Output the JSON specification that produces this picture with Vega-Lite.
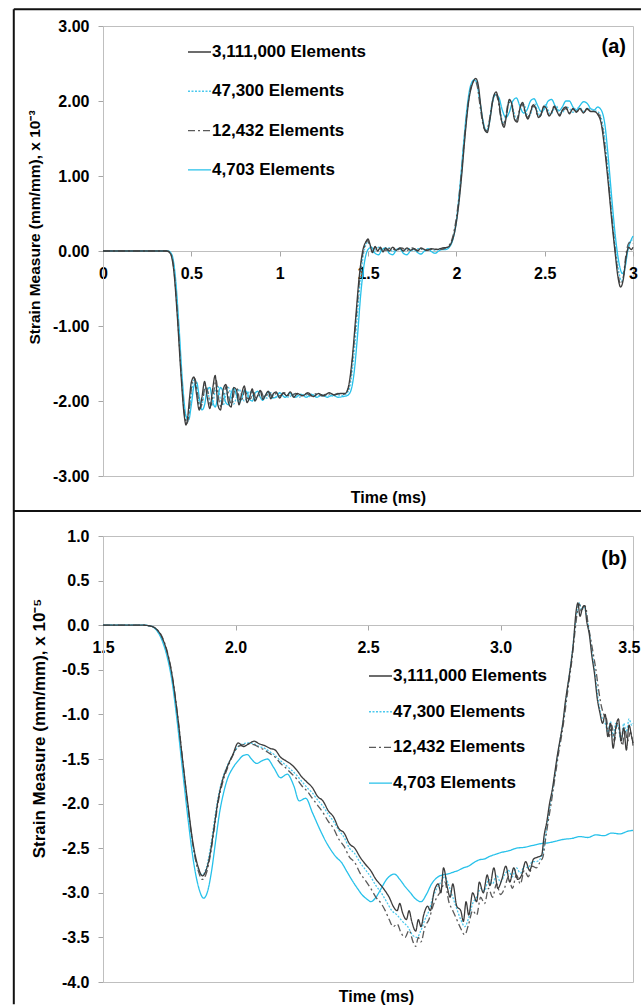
{
"$schema": "https://vega.github.io/schema/vega-lite/v6.json",
"padding": {"left": 12, "top": 7, "right": 0, "bottom": 0},
"spacing": -4,
"config": {
 "font": "Liberation Sans",
 "locale": {"number": {"decimal": ".", "thousands": ",", "grouping": [3], "currency": ["$", ""], "minus": "-"}},
 "view": {"stroke": "#bfbfbf", "strokeWidth": 1},
 "axis": {"grid": false, "labelFont": "Liberation Sans", "labelFontSize": 16, "labelFontWeight": "bold", "labelColor": "#000000", "titleFont": "Liberation Sans", "titleFontWeight": "bold", "titleColor": "#000000", "titleFontSize": 16, "tickColor": "#a6a6a6", "tickSize": 5, "domainColor": "#bfbfbf", "labelOverlap": false, "labelFlush": false, "labelBound": false},
 "legend": {"title": null, "orient": "none", "symbolType": "stroke", "symbolStrokeWidth": 1.4, "labelFont": "Liberation Sans", "labelFontSize": 17, "labelFontWeight": "bold", "labelColor": "#000000", "labelOffset": 0, "padding": 0}
},
"datasets": {
"a": [
{"s":"4,703","t":0,"v":0},{"s":"4,703","t":0.37,"v":0},{"s":"4,703","t":0.39,"v":-0.05},{"s":"4,703","t":0.41,"v":-0.35},{"s":"4,703","t":0.43,"v":-1.0},{"s":"4,703","t":0.45,"v":-1.75},{"s":"4,703","t":0.47,"v":-2.2},{"s":"4,703","t":0.485,"v":-2.25},{"s":"4,703","t":0.5,"v":-2.05},{"s":"4,703","t":0.515,"v":-1.8},{"s":"4,703","t":0.53,"v":-1.75},{"s":"4,703","t":0.545,"v":-1.95},{"s":"4,703","t":0.56,"v":-2.12},{"s":"4,703","t":0.575,"v":-2.05},{"s":"4,703","t":0.59,"v":-1.85},{"s":"4,703","t":0.605,"v":-1.82},{"s":"4,703","t":0.62,"v":-2.0},{"s":"4,703","t":0.635,"v":-2.08},{"s":"4,703","t":0.65,"v":-1.95},{"s":"4,703","t":0.665,"v":-1.82},{"s":"4,703","t":0.68,"v":-1.88},{"s":"4,703","t":0.695,"v":-2.02},{"s":"4,703","t":0.71,"v":-2.05},{"s":"4,703","t":0.725,"v":-1.9},{"s":"4,703","t":0.74,"v":-1.83},{"s":"4,703","t":0.755,"v":-1.92},{"s":"4,703","t":0.77,"v":-2.02},{"s":"4,703","t":0.785,"v":-1.97},{"s":"4,703","t":0.8,"v":-1.86},{"s":"4,703","t":0.815,"v":-1.88},{"s":"4,703","t":0.83,"v":-1.98},{"s":"4,703","t":0.845,"v":-2.0},{"s":"4,703","t":0.86,"v":-1.9},{"s":"4,703","t":0.875,"v":-1.87},{"s":"4,703","t":0.89,"v":-1.95},{"s":"4,703","t":0.905,"v":-1.99},{"s":"4,703","t":0.92,"v":-1.92},{"s":"4,703","t":0.94,"v":-1.88},{"s":"4,703","t":0.96,"v":-1.96},{"s":"4,703","t":0.98,"v":-1.95},{"s":"4,703","t":1.0,"v":-1.89},{"s":"4,703","t":1.03,"v":-1.95},{"s":"4,703","t":1.06,"v":-1.9},{"s":"4,703","t":1.09,"v":-1.95},{"s":"4,703","t":1.12,"v":-1.91},{"s":"4,703","t":1.15,"v":-1.95},{"s":"4,703","t":1.18,"v":-1.91},{"s":"4,703","t":1.21,"v":-1.95},{"s":"4,703","t":1.24,"v":-1.92},{"s":"4,703","t":1.27,"v":-1.95},{"s":"4,703","t":1.3,"v":-1.92},{"s":"4,703","t":1.33,"v":-1.95},{"s":"4,703","t":1.36,"v":-1.94},{"s":"4,703","t":1.38,"v":-1.93},{"s":"4,703","t":1.4,"v":-1.88},{"s":"4,703","t":1.42,"v":-1.65},{"s":"4,703","t":1.44,"v":-1.15},{"s":"4,703","t":1.46,"v":-0.55},{"s":"4,703","t":1.48,"v":-0.15},{"s":"4,703","t":1.5,"v":0.02},{"s":"4,703","t":1.52,"v":0.05},{"s":"4,703","t":1.54,"v":-0.03},{"s":"4,703","t":1.56,"v":-0.05},{"s":"4,703","t":1.58,"v":0.02},{"s":"4,703","t":1.6,"v":0.04},{"s":"4,703","t":1.62,"v":-0.03},{"s":"4,703","t":1.64,"v":-0.05},{"s":"4,703","t":1.66,"v":0.01},{"s":"4,703","t":1.68,"v":0.03},{"s":"4,703","t":1.7,"v":-0.03},{"s":"4,703","t":1.72,"v":-0.05},{"s":"4,703","t":1.74,"v":0.0},{"s":"4,703","t":1.76,"v":0.03},{"s":"4,703","t":1.78,"v":-0.02},{"s":"4,703","t":1.8,"v":-0.04},{"s":"4,703","t":1.82,"v":0.0},{"s":"4,703","t":1.84,"v":0.03},{"s":"4,703","t":1.86,"v":-0.01},{"s":"4,703","t":1.88,"v":-0.03},{"s":"4,703","t":1.9,"v":0.0},{"s":"4,703","t":1.92,"v":0.02},{"s":"4,703","t":1.94,"v":0.02},{"s":"4,703","t":1.96,"v":0.05},{"s":"4,703","t":1.98,"v":0.15},{"s":"4,703","t":2.0,"v":0.4},{"s":"4,703","t":2.02,"v":0.85},{"s":"4,703","t":2.04,"v":1.4},{"s":"4,703","t":2.06,"v":1.9},{"s":"4,703","t":2.08,"v":2.2},{"s":"4,703","t":2.1,"v":2.28},{"s":"4,703","t":2.115,"v":2.25},{"s":"4,703","t":2.13,"v":2.05},{"s":"4,703","t":2.15,"v":1.75},{"s":"4,703","t":2.17,"v":1.6},{"s":"4,703","t":2.185,"v":1.68},{"s":"4,703","t":2.2,"v":1.92},{"s":"4,703","t":2.22,"v":2.08},{"s":"4,703","t":2.24,"v":2.05},{"s":"4,703","t":2.26,"v":1.88},{"s":"4,703","t":2.28,"v":1.78},{"s":"4,703","t":2.3,"v":1.85},{"s":"4,703","t":2.32,"v":2.0},{"s":"4,703","t":2.34,"v":2.04},{"s":"4,703","t":2.36,"v":1.93},{"s":"4,703","t":2.38,"v":1.84},{"s":"4,703","t":2.4,"v":1.88},{"s":"4,703","t":2.42,"v":2.0},{"s":"4,703","t":2.44,"v":2.03},{"s":"4,703","t":2.46,"v":1.94},{"s":"4,703","t":2.48,"v":1.86},{"s":"4,703","t":2.5,"v":1.9},{"s":"4,703","t":2.52,"v":2.0},{"s":"4,703","t":2.54,"v":2.02},{"s":"4,703","t":2.56,"v":1.93},{"s":"4,703","t":2.58,"v":1.87},{"s":"4,703","t":2.6,"v":1.92},{"s":"4,703","t":2.62,"v":2.0},{"s":"4,703","t":2.64,"v":2.0},{"s":"4,703","t":2.66,"v":1.92},{"s":"4,703","t":2.68,"v":1.88},{"s":"4,703","t":2.7,"v":1.94},{"s":"4,703","t":2.72,"v":1.99},{"s":"4,703","t":2.74,"v":1.97},{"s":"4,703","t":2.76,"v":1.9},{"s":"4,703","t":2.78,"v":1.88},{"s":"4,703","t":2.8,"v":1.92},{"s":"4,703","t":2.82,"v":1.88},{"s":"4,703","t":2.84,"v":1.7},{"s":"4,703","t":2.86,"v":1.25},{"s":"4,703","t":2.88,"v":0.7},{"s":"4,703","t":2.9,"v":0.2},{"s":"4,703","t":2.92,"v":-0.15},{"s":"4,703","t":2.94,"v":-0.3},{"s":"4,703","t":2.955,"v":-0.22},{"s":"4,703","t":2.97,"v":0.0},{"s":"4,703","t":2.985,"v":0.12},{"s":"4,703","t":3.0,"v":0.2},
{"s":"47,300","t":0,"v":0},{"s":"47,300","t":0.365,"v":0},{"s":"47,300","t":0.385,"v":-0.04},{"s":"47,300","t":0.405,"v":-0.3},{"s":"47,300","t":0.425,"v":-0.92},{"s":"47,300","t":0.445,"v":-1.68},{"s":"47,300","t":0.465,"v":-2.2},{"s":"47,300","t":0.478,"v":-2.28},{"s":"47,300","t":0.49,"v":-2.12},{"s":"47,300","t":0.5,"v":-1.9},{"s":"47,300","t":0.515,"v":-1.72},{"s":"47,300","t":0.53,"v":-1.82},{"s":"47,300","t":0.545,"v":-2.05},{"s":"47,300","t":0.56,"v":-2.05},{"s":"47,300","t":0.575,"v":-1.85},{"s":"47,300","t":0.59,"v":-1.82},{"s":"47,300","t":0.605,"v":-2.02},{"s":"47,300","t":0.62,"v":-2.05},{"s":"47,300","t":0.635,"v":-1.86},{"s":"47,300","t":0.65,"v":-1.8},{"s":"47,300","t":0.665,"v":-1.98},{"s":"47,300","t":0.68,"v":-2.06},{"s":"47,300","t":0.695,"v":-1.92},{"s":"47,300","t":0.71,"v":-1.82},{"s":"47,300","t":0.725,"v":-1.93},{"s":"47,300","t":0.74,"v":-2.04},{"s":"47,300","t":0.755,"v":-1.95},{"s":"47,300","t":0.77,"v":-1.84},{"s":"47,300","t":0.785,"v":-1.92},{"s":"47,300","t":0.8,"v":-2.0},{"s":"47,300","t":0.815,"v":-1.95},{"s":"47,300","t":0.83,"v":-1.87},{"s":"47,300","t":0.845,"v":-1.92},{"s":"47,300","t":0.86,"v":-1.99},{"s":"47,300","t":0.875,"v":-1.94},{"s":"47,300","t":0.89,"v":-1.88},{"s":"47,300","t":0.91,"v":-1.95},{"s":"47,300","t":0.93,"v":-1.96},{"s":"47,300","t":0.95,"v":-1.89},{"s":"47,300","t":0.97,"v":-1.93},{"s":"47,300","t":0.99,"v":-1.95},{"s":"47,300","t":1.02,"v":-1.9},{"s":"47,300","t":1.05,"v":-1.95},{"s":"47,300","t":1.08,"v":-1.91},{"s":"47,300","t":1.11,"v":-1.95},{"s":"47,300","t":1.14,"v":-1.91},{"s":"47,300","t":1.17,"v":-1.94},{"s":"47,300","t":1.2,"v":-1.91},{"s":"47,300","t":1.23,"v":-1.94},{"s":"47,300","t":1.26,"v":-1.92},{"s":"47,300","t":1.29,"v":-1.94},{"s":"47,300","t":1.32,"v":-1.91},{"s":"47,300","t":1.35,"v":-1.93},{"s":"47,300","t":1.38,"v":-1.9},{"s":"47,300","t":1.4,"v":-1.78},{"s":"47,300","t":1.42,"v":-1.4},{"s":"47,300","t":1.44,"v":-0.85},{"s":"47,300","t":1.46,"v":-0.3},{"s":"47,300","t":1.48,"v":0.02},{"s":"47,300","t":1.5,"v":0.12},{"s":"47,300","t":1.515,"v":0.06},{"s":"47,300","t":1.53,"v":-0.02},{"s":"47,300","t":1.545,"v":0.02},{"s":"47,300","t":1.56,"v":0.05},{"s":"47,300","t":1.58,"v":-0.01},{"s":"47,300","t":1.6,"v":0.03},{"s":"47,300","t":1.62,"v":0.04},{"s":"47,300","t":1.64,"v":-0.01},{"s":"47,300","t":1.66,"v":0.02},{"s":"47,300","t":1.68,"v":0.04},{"s":"47,300","t":1.7,"v":0.0},{"s":"47,300","t":1.72,"v":0.03},{"s":"47,300","t":1.74,"v":0.03},{"s":"47,300","t":1.76,"v":0.0},{"s":"47,300","t":1.78,"v":0.03},{"s":"47,300","t":1.8,"v":0.03},{"s":"47,300","t":1.82,"v":0.0},{"s":"47,300","t":1.85,"v":0.03},{"s":"47,300","t":1.88,"v":0.01},{"s":"47,300","t":1.91,"v":0.03},{"s":"47,300","t":1.94,"v":0.03},{"s":"47,300","t":1.96,"v":0.07},{"s":"47,300","t":1.98,"v":0.17},{"s":"47,300","t":2.0,"v":0.38},{"s":"47,300","t":2.02,"v":0.78},{"s":"47,300","t":2.04,"v":1.3},{"s":"47,300","t":2.06,"v":1.82},{"s":"47,300","t":2.08,"v":2.15},{"s":"47,300","t":2.1,"v":2.28},{"s":"47,300","t":2.115,"v":2.26},{"s":"47,300","t":2.13,"v":2.05},{"s":"47,300","t":2.15,"v":1.72},{"s":"47,300","t":2.17,"v":1.6},{"s":"47,300","t":2.185,"v":1.7},{"s":"47,300","t":2.2,"v":1.95},{"s":"47,300","t":2.22,"v":2.1},{"s":"47,300","t":2.235,"v":2.05},{"s":"47,300","t":2.25,"v":1.85},{"s":"47,300","t":2.265,"v":1.7},{"s":"47,300","t":2.28,"v":1.78},{"s":"47,300","t":2.295,"v":1.96},{"s":"47,300","t":2.31,"v":2.0},{"s":"47,300","t":2.325,"v":1.86},{"s":"47,300","t":2.34,"v":1.76},{"s":"47,300","t":2.355,"v":1.83},{"s":"47,300","t":2.37,"v":1.96},{"s":"47,300","t":2.385,"v":1.95},{"s":"47,300","t":2.4,"v":1.82},{"s":"47,300","t":2.415,"v":1.8},{"s":"47,300","t":2.43,"v":1.9},{"s":"47,300","t":2.445,"v":1.96},{"s":"47,300","t":2.46,"v":1.86},{"s":"47,300","t":2.475,"v":1.8},{"s":"47,300","t":2.49,"v":1.87},{"s":"47,300","t":2.505,"v":1.95},{"s":"47,300","t":2.52,"v":1.88},{"s":"47,300","t":2.535,"v":1.82},{"s":"47,300","t":2.55,"v":1.88},{"s":"47,300","t":2.565,"v":1.94},{"s":"47,300","t":2.58,"v":1.87},{"s":"47,300","t":2.6,"v":1.84},{"s":"47,300","t":2.62,"v":1.92},{"s":"47,300","t":2.64,"v":1.9},{"s":"47,300","t":2.66,"v":1.85},{"s":"47,300","t":2.68,"v":1.9},{"s":"47,300","t":2.7,"v":1.91},{"s":"47,300","t":2.72,"v":1.86},{"s":"47,300","t":2.74,"v":1.9},{"s":"47,300","t":2.76,"v":1.9},{"s":"47,300","t":2.78,"v":1.87},{"s":"47,300","t":2.8,"v":1.86},{"s":"47,300","t":2.82,"v":1.78},{"s":"47,300","t":2.84,"v":1.5},{"s":"47,300","t":2.86,"v":1.05},{"s":"47,300","t":2.88,"v":0.55},{"s":"47,300","t":2.9,"v":0.08},{"s":"47,300","t":2.92,"v":-0.28},{"s":"47,300","t":2.935,"v":-0.4},{"s":"47,300","t":2.95,"v":-0.3},{"s":"47,300","t":2.965,"v":-0.05},{"s":"47,300","t":2.98,"v":0.12},{"s":"47,300","t":3.0,"v":0.15},
{"s":"12,432","t":0,"v":0},{"s":"12,432","t":0.36,"v":0},{"s":"12,432","t":0.38,"v":-0.02},{"s":"12,432","t":0.4,"v":-0.22},{"s":"12,432","t":0.42,"v":-0.8},{"s":"12,432","t":0.44,"v":-1.55},{"s":"12,432","t":0.46,"v":-2.15},{"s":"12,432","t":0.475,"v":-2.3},{"s":"12,432","t":0.485,"v":-2.2},{"s":"12,432","t":0.495,"v":-1.95},{"s":"12,432","t":0.505,"v":-1.75},{"s":"12,432","t":0.52,"v":-1.7},{"s":"12,432","t":0.535,"v":-1.9},{"s":"12,432","t":0.55,"v":-2.1},{"s":"12,432","t":0.565,"v":-1.98},{"s":"12,432","t":0.58,"v":-1.78},{"s":"12,432","t":0.595,"v":-1.9},{"s":"12,432","t":0.61,"v":-2.06},{"s":"12,432","t":0.625,"v":-1.9},{"s":"12,432","t":0.64,"v":-1.72},{"s":"12,432","t":0.655,"v":-1.98},{"s":"12,432","t":0.67,"v":-2.08},{"s":"12,432","t":0.685,"v":-1.9},{"s":"12,432","t":0.7,"v":-1.8},{"s":"12,432","t":0.715,"v":-1.98},{"s":"12,432","t":0.73,"v":-2.04},{"s":"12,432","t":0.745,"v":-1.86},{"s":"12,432","t":0.76,"v":-1.84},{"s":"12,432","t":0.775,"v":-2.0},{"s":"12,432","t":0.79,"v":-1.96},{"s":"12,432","t":0.805,"v":-1.84},{"s":"12,432","t":0.82,"v":-1.97},{"s":"12,432","t":0.835,"v":-1.97},{"s":"12,432","t":0.85,"v":-1.86},{"s":"12,432","t":0.865,"v":-1.96},{"s":"12,432","t":0.88,"v":-1.95},{"s":"12,432","t":0.895,"v":-1.87},{"s":"12,432","t":0.91,"v":-1.95},{"s":"12,432","t":0.925,"v":-1.93},{"s":"12,432","t":0.94,"v":-1.88},{"s":"12,432","t":0.96,"v":-1.95},{"s":"12,432","t":0.98,"v":-1.9},{"s":"12,432","t":1.0,"v":-1.93},{"s":"12,432","t":1.03,"v":-1.89},{"s":"12,432","t":1.06,"v":-1.94},{"s":"12,432","t":1.09,"v":-1.9},{"s":"12,432","t":1.12,"v":-1.93},{"s":"12,432","t":1.15,"v":-1.9},{"s":"12,432","t":1.18,"v":-1.93},{"s":"12,432","t":1.21,"v":-1.9},{"s":"12,432","t":1.24,"v":-1.93},{"s":"12,432","t":1.27,"v":-1.9},{"s":"12,432","t":1.3,"v":-1.92},{"s":"12,432","t":1.33,"v":-1.9},{"s":"12,432","t":1.36,"v":-1.91},{"s":"12,432","t":1.38,"v":-1.88},{"s":"12,432","t":1.4,"v":-1.7},{"s":"12,432","t":1.42,"v":-1.25},{"s":"12,432","t":1.44,"v":-0.7},{"s":"12,432","t":1.46,"v":-0.2},{"s":"12,432","t":1.48,"v":0.06},{"s":"12,432","t":1.495,"v":0.14},{"s":"12,432","t":1.51,"v":0.08},{"s":"12,432","t":1.525,"v":0.0},{"s":"12,432","t":1.54,"v":0.05},{"s":"12,432","t":1.56,"v":0.02},{"s":"12,432","t":1.58,"v":0.04},{"s":"12,432","t":1.6,"v":0.01},{"s":"12,432","t":1.63,"v":0.04},{"s":"12,432","t":1.66,"v":0.01},{"s":"12,432","t":1.69,"v":0.04},{"s":"12,432","t":1.72,"v":0.01},{"s":"12,432","t":1.75,"v":0.04},{"s":"12,432","t":1.78,"v":0.01},{"s":"12,432","t":1.81,"v":0.03},{"s":"12,432","t":1.84,"v":0.01},{"s":"12,432","t":1.87,"v":0.03},{"s":"12,432","t":1.9,"v":0.02},{"s":"12,432","t":1.93,"v":0.03},{"s":"12,432","t":1.95,"v":0.06},{"s":"12,432","t":1.97,"v":0.12},{"s":"12,432","t":1.99,"v":0.3},{"s":"12,432","t":2.01,"v":0.62},{"s":"12,432","t":2.03,"v":1.08},{"s":"12,432","t":2.05,"v":1.62},{"s":"12,432","t":2.07,"v":2.02},{"s":"12,432","t":2.09,"v":2.24},{"s":"12,432","t":2.105,"v":2.27},{"s":"12,432","t":2.12,"v":2.18},{"s":"12,432","t":2.135,"v":1.92},{"s":"12,432","t":2.155,"v":1.65},{"s":"12,432","t":2.17,"v":1.6},{"s":"12,432","t":2.185,"v":1.72},{"s":"12,432","t":2.205,"v":2.0},{"s":"12,432","t":2.22,"v":2.1},{"s":"12,432","t":2.235,"v":2.02},{"s":"12,432","t":2.25,"v":1.8},{"s":"12,432","t":2.265,"v":1.68},{"s":"12,432","t":2.28,"v":1.8},{"s":"12,432","t":2.295,"v":1.98},{"s":"12,432","t":2.31,"v":1.97},{"s":"12,432","t":2.325,"v":1.8},{"s":"12,432","t":2.34,"v":1.74},{"s":"12,432","t":2.355,"v":1.86},{"s":"12,432","t":2.37,"v":1.96},{"s":"12,432","t":2.385,"v":1.88},{"s":"12,432","t":2.4,"v":1.78},{"s":"12,432","t":2.415,"v":1.82},{"s":"12,432","t":2.43,"v":1.93},{"s":"12,432","t":2.445,"v":1.92},{"s":"12,432","t":2.46,"v":1.8},{"s":"12,432","t":2.475,"v":1.8},{"s":"12,432","t":2.49,"v":1.91},{"s":"12,432","t":2.505,"v":1.92},{"s":"12,432","t":2.52,"v":1.82},{"s":"12,432","t":2.535,"v":1.83},{"s":"12,432","t":2.55,"v":1.92},{"s":"12,432","t":2.565,"v":1.89},{"s":"12,432","t":2.58,"v":1.82},{"s":"12,432","t":2.6,"v":1.87},{"s":"12,432","t":2.62,"v":1.9},{"s":"12,432","t":2.64,"v":1.84},{"s":"12,432","t":2.66,"v":1.89},{"s":"12,432","t":2.68,"v":1.86},{"s":"12,432","t":2.7,"v":1.89},{"s":"12,432","t":2.72,"v":1.85},{"s":"12,432","t":2.74,"v":1.89},{"s":"12,432","t":2.76,"v":1.87},{"s":"12,432","t":2.78,"v":1.86},{"s":"12,432","t":2.8,"v":1.84},{"s":"12,432","t":2.82,"v":1.74},{"s":"12,432","t":2.84,"v":1.42},{"s":"12,432","t":2.86,"v":0.95},{"s":"12,432","t":2.88,"v":0.45},{"s":"12,432","t":2.9,"v":0.0},{"s":"12,432","t":2.915,"v":-0.3},{"s":"12,432","t":2.93,"v":-0.44},{"s":"12,432","t":2.945,"v":-0.35},{"s":"12,432","t":2.96,"v":-0.05},{"s":"12,432","t":2.975,"v":0.1},{"s":"12,432","t":2.99,"v":0.12},{"s":"12,432","t":3.0,"v":0.1},
{"s":"3,111,000","t":0,"v":0},{"s":"3,111,000","t":0.36,"v":0},{"s":"3,111,000","t":0.38,"v":-0.03},{"s":"3,111,000","t":0.4,"v":-0.25},{"s":"3,111,000","t":0.42,"v":-0.85},{"s":"3,111,000","t":0.44,"v":-1.6},{"s":"3,111,000","t":0.46,"v":-2.2},{"s":"3,111,000","t":0.47,"v":-2.32},{"s":"3,111,000","t":0.48,"v":-2.2},{"s":"3,111,000","t":0.49,"v":-1.95},{"s":"3,111,000","t":0.5,"v":-1.75},{"s":"3,111,000","t":0.515,"v":-1.68},{"s":"3,111,000","t":0.53,"v":-1.92},{"s":"3,111,000","t":0.545,"v":-2.12},{"s":"3,111,000","t":0.56,"v":-1.95},{"s":"3,111,000","t":0.575,"v":-1.74},{"s":"3,111,000","t":0.59,"v":-1.95},{"s":"3,111,000","t":0.605,"v":-2.1},{"s":"3,111,000","t":0.62,"v":-1.85},{"s":"3,111,000","t":0.635,"v":-1.66},{"s":"3,111,000","t":0.65,"v":-2.05},{"s":"3,111,000","t":0.665,"v":-2.12},{"s":"3,111,000","t":0.68,"v":-1.85},{"s":"3,111,000","t":0.695,"v":-1.78},{"s":"3,111,000","t":0.71,"v":-2.02},{"s":"3,111,000","t":0.725,"v":-2.08},{"s":"3,111,000","t":0.74,"v":-1.82},{"s":"3,111,000","t":0.755,"v":-1.85},{"s":"3,111,000","t":0.77,"v":-2.05},{"s":"3,111,000","t":0.785,"v":-1.9},{"s":"3,111,000","t":0.8,"v":-1.8},{"s":"3,111,000","t":0.815,"v":-2.02},{"s":"3,111,000","t":0.83,"v":-1.95},{"s":"3,111,000","t":0.845,"v":-1.84},{"s":"3,111,000","t":0.86,"v":-2.0},{"s":"3,111,000","t":0.875,"v":-1.93},{"s":"3,111,000","t":0.89,"v":-1.86},{"s":"3,111,000","t":0.905,"v":-1.98},{"s":"3,111,000","t":0.92,"v":-1.92},{"s":"3,111,000","t":0.935,"v":-1.87},{"s":"3,111,000","t":0.95,"v":-1.97},{"s":"3,111,000","t":0.965,"v":-1.9},{"s":"3,111,000","t":0.98,"v":-1.88},{"s":"3,111,000","t":1.0,"v":-1.96},{"s":"3,111,000","t":1.02,"v":-1.89},{"s":"3,111,000","t":1.04,"v":-1.93},{"s":"3,111,000","t":1.06,"v":-1.88},{"s":"3,111,000","t":1.08,"v":-1.95},{"s":"3,111,000","t":1.1,"v":-1.9},{"s":"3,111,000","t":1.13,"v":-1.93},{"s":"3,111,000","t":1.16,"v":-1.89},{"s":"3,111,000","t":1.19,"v":-1.94},{"s":"3,111,000","t":1.22,"v":-1.9},{"s":"3,111,000","t":1.25,"v":-1.93},{"s":"3,111,000","t":1.28,"v":-1.89},{"s":"3,111,000","t":1.31,"v":-1.92},{"s":"3,111,000","t":1.34,"v":-1.9},{"s":"3,111,000","t":1.37,"v":-1.9},{"s":"3,111,000","t":1.39,"v":-1.8},{"s":"3,111,000","t":1.41,"v":-1.45},{"s":"3,111,000","t":1.43,"v":-0.9},{"s":"3,111,000","t":1.45,"v":-0.35},{"s":"3,111,000","t":1.47,"v":0.0},{"s":"3,111,000","t":1.49,"v":0.13},{"s":"3,111,000","t":1.5,"v":0.16},{"s":"3,111,000","t":1.51,"v":0.1},{"s":"3,111,000","t":1.525,"v":-0.02},{"s":"3,111,000","t":1.54,"v":0.06},{"s":"3,111,000","t":1.555,"v":0.0},{"s":"3,111,000","t":1.57,"v":0.05},{"s":"3,111,000","t":1.585,"v":-0.01},{"s":"3,111,000","t":1.6,"v":0.04},{"s":"3,111,000","t":1.62,"v":0.0},{"s":"3,111,000","t":1.64,"v":0.05},{"s":"3,111,000","t":1.66,"v":0.01},{"s":"3,111,000","t":1.68,"v":0.04},{"s":"3,111,000","t":1.7,"v":0.0},{"s":"3,111,000","t":1.72,"v":0.04},{"s":"3,111,000","t":1.74,"v":0.01},{"s":"3,111,000","t":1.76,"v":0.03},{"s":"3,111,000","t":1.78,"v":0.0},{"s":"3,111,000","t":1.8,"v":0.04},{"s":"3,111,000","t":1.83,"v":0.01},{"s":"3,111,000","t":1.86,"v":0.03},{"s":"3,111,000","t":1.89,"v":0.02},{"s":"3,111,000","t":1.92,"v":0.04},{"s":"3,111,000","t":1.95,"v":0.05},{"s":"3,111,000","t":1.97,"v":0.1},{"s":"3,111,000","t":1.99,"v":0.25},{"s":"3,111,000","t":2.01,"v":0.55},{"s":"3,111,000","t":2.03,"v":1.0},{"s":"3,111,000","t":2.05,"v":1.55},{"s":"3,111,000","t":2.07,"v":2.0},{"s":"3,111,000","t":2.09,"v":2.22},{"s":"3,111,000","t":2.11,"v":2.3},{"s":"3,111,000","t":2.125,"v":2.2},{"s":"3,111,000","t":2.14,"v":1.9},{"s":"3,111,000","t":2.16,"v":1.62},{"s":"3,111,000","t":2.175,"v":1.58},{"s":"3,111,000","t":2.19,"v":1.75},{"s":"3,111,000","t":2.21,"v":2.05},{"s":"3,111,000","t":2.225,"v":2.12},{"s":"3,111,000","t":2.24,"v":2.0},{"s":"3,111,000","t":2.255,"v":1.75},{"s":"3,111,000","t":2.27,"v":1.65},{"s":"3,111,000","t":2.285,"v":1.82},{"s":"3,111,000","t":2.3,"v":2.02},{"s":"3,111,000","t":2.315,"v":1.95},{"s":"3,111,000","t":2.33,"v":1.75},{"s":"3,111,000","t":2.345,"v":1.72},{"s":"3,111,000","t":2.36,"v":1.9},{"s":"3,111,000","t":2.375,"v":1.98},{"s":"3,111,000","t":2.39,"v":1.85},{"s":"3,111,000","t":2.405,"v":1.76},{"s":"3,111,000","t":2.42,"v":1.85},{"s":"3,111,000","t":2.435,"v":1.95},{"s":"3,111,000","t":2.45,"v":1.9},{"s":"3,111,000","t":2.465,"v":1.78},{"s":"3,111,000","t":2.48,"v":1.82},{"s":"3,111,000","t":2.495,"v":1.93},{"s":"3,111,000","t":2.51,"v":1.9},{"s":"3,111,000","t":2.525,"v":1.8},{"s":"3,111,000","t":2.54,"v":1.85},{"s":"3,111,000","t":2.555,"v":1.93},{"s":"3,111,000","t":2.57,"v":1.86},{"s":"3,111,000","t":2.585,"v":1.8},{"s":"3,111,000","t":2.6,"v":1.88},{"s":"3,111,000","t":2.62,"v":1.92},{"s":"3,111,000","t":2.64,"v":1.83},{"s":"3,111,000","t":2.66,"v":1.9},{"s":"3,111,000","t":2.68,"v":1.85},{"s":"3,111,000","t":2.7,"v":1.9},{"s":"3,111,000","t":2.72,"v":1.84},{"s":"3,111,000","t":2.74,"v":1.9},{"s":"3,111,000","t":2.76,"v":1.86},{"s":"3,111,000","t":2.78,"v":1.86},{"s":"3,111,000","t":2.8,"v":1.82},{"s":"3,111,000","t":2.82,"v":1.7},{"s":"3,111,000","t":2.84,"v":1.35},{"s":"3,111,000","t":2.86,"v":0.9},{"s":"3,111,000","t":2.88,"v":0.4},{"s":"3,111,000","t":2.9,"v":-0.05},{"s":"3,111,000","t":2.915,"v":-0.35},{"s":"3,111,000","t":2.93,"v":-0.48},{"s":"3,111,000","t":2.945,"v":-0.38},{"s":"3,111,000","t":2.96,"v":-0.1},{"s":"3,111,000","t":2.975,"v":0.05},{"s":"3,111,000","t":2.99,"v":0.02},{"s":"3,111,000","t":3.0,"v":0.05}
],
"b": [
{"s":"4,703","t":1.5,"v":0},{"s":"4,703","t":1.65,"v":0},{"s":"4,703","t":1.68,"v":-0.01},{"s":"4,703","t":1.7,"v":-0.05},{"s":"4,703","t":1.72,"v":-0.15},{"s":"4,703","t":1.74,"v":-0.33},{"s":"4,703","t":1.76,"v":-0.62},{"s":"4,703","t":1.78,"v":-1.08},{"s":"4,703","t":1.8,"v":-1.62},{"s":"4,703","t":1.82,"v":-2.15},{"s":"4,703","t":1.84,"v":-2.62},{"s":"4,703","t":1.86,"v":-2.93},{"s":"4,703","t":1.88,"v":-3.06},{"s":"4,703","t":1.895,"v":-2.98},{"s":"4,703","t":1.91,"v":-2.75},{"s":"4,703","t":1.925,"v":-2.42},{"s":"4,703","t":1.94,"v":-2.1},{"s":"4,703","t":1.955,"v":-1.88},{"s":"4,703","t":1.97,"v":-1.72},{"s":"4,703","t":1.99,"v":-1.6},{"s":"4,703","t":2.01,"v":-1.52},{"s":"4,703","t":2.03,"v":-1.46},{"s":"4,703","t":2.045,"v":-1.45},{"s":"4,703","t":2.06,"v":-1.5},{"s":"4,703","t":2.08,"v":-1.55},{"s":"4,703","t":2.1,"v":-1.52},{"s":"4,703","t":2.12,"v":-1.5},{"s":"4,703","t":2.145,"v":-1.6},{"s":"4,703","t":2.17,"v":-1.71},{"s":"4,703","t":2.195,"v":-1.67},{"s":"4,703","t":2.22,"v":-1.8},{"s":"4,703","t":2.24,"v":-1.97},{"s":"4,703","t":2.265,"v":-1.94},{"s":"4,703","t":2.29,"v":-2.1},{"s":"4,703","t":2.32,"v":-2.3},{"s":"4,703","t":2.34,"v":-2.42},{"s":"4,703","t":2.36,"v":-2.52},{"s":"4,703","t":2.38,"v":-2.6},{"s":"4,703","t":2.4,"v":-2.66},{"s":"4,703","t":2.42,"v":-2.76},{"s":"4,703","t":2.44,"v":-2.86},{"s":"4,703","t":2.46,"v":-2.95},{"s":"4,703","t":2.48,"v":-3.03},{"s":"4,703","t":2.5,"v":-3.08},{"s":"4,703","t":2.51,"v":-3.1},{"s":"4,703","t":2.53,"v":-3.05},{"s":"4,703","t":2.55,"v":-2.95},{"s":"4,703","t":2.57,"v":-2.85},{"s":"4,703","t":2.6,"v":-2.79},{"s":"4,703","t":2.62,"v":-2.85},{"s":"4,703","t":2.64,"v":-2.93},{"s":"4,703","t":2.66,"v":-3.0},{"s":"4,703","t":2.68,"v":-3.07},{"s":"4,703","t":2.7,"v":-3.1},{"s":"4,703","t":2.72,"v":-3.02},{"s":"4,703","t":2.74,"v":-2.9},{"s":"4,703","t":2.76,"v":-2.83},{"s":"4,703","t":2.78,"v":-2.8},{"s":"4,703","t":2.8,"v":-2.79},{"s":"4,703","t":2.82,"v":-2.77},{"s":"4,703","t":2.84,"v":-2.75},{"s":"4,703","t":2.86,"v":-2.72},{"s":"4,703","t":2.88,"v":-2.7},{"s":"4,703","t":2.9,"v":-2.66},{"s":"4,703","t":2.92,"v":-2.63},{"s":"4,703","t":2.94,"v":-2.62},{"s":"4,703","t":2.96,"v":-2.59},{"s":"4,703","t":2.98,"v":-2.57},{"s":"4,703","t":3.0,"v":-2.55},{"s":"4,703","t":3.03,"v":-2.53},{"s":"4,703","t":3.06,"v":-2.5},{"s":"4,703","t":3.09,"v":-2.49},{"s":"4,703","t":3.12,"v":-2.47},{"s":"4,703","t":3.15,"v":-2.45},{"s":"4,703","t":3.18,"v":-2.44},{"s":"4,703","t":3.21,"v":-2.42},{"s":"4,703","t":3.24,"v":-2.4},{"s":"4,703","t":3.27,"v":-2.39},{"s":"4,703","t":3.3,"v":-2.37},{"s":"4,703","t":3.33,"v":-2.38},{"s":"4,703","t":3.36,"v":-2.35},{"s":"4,703","t":3.39,"v":-2.36},{"s":"4,703","t":3.42,"v":-2.33},{"s":"4,703","t":3.45,"v":-2.34},{"s":"4,703","t":3.48,"v":-2.31},{"s":"4,703","t":3.5,"v":-2.3},
{"s":"47,300","t":1.5,"v":0},{"s":"47,300","t":1.65,"v":0},{"s":"47,300","t":1.68,"v":-0.01},{"s":"47,300","t":1.7,"v":-0.04},{"s":"47,300","t":1.72,"v":-0.13},{"s":"47,300","t":1.74,"v":-0.3},{"s":"47,300","t":1.76,"v":-0.58},{"s":"47,300","t":1.78,"v":-1.02},{"s":"47,300","t":1.8,"v":-1.55},{"s":"47,300","t":1.82,"v":-2.05},{"s":"47,300","t":1.84,"v":-2.48},{"s":"47,300","t":1.86,"v":-2.74},{"s":"47,300","t":1.875,"v":-2.8},{"s":"47,300","t":1.89,"v":-2.72},{"s":"47,300","t":1.905,"v":-2.5},{"s":"47,300","t":1.92,"v":-2.2},{"s":"47,300","t":1.935,"v":-1.92},{"s":"47,300","t":1.95,"v":-1.73},{"s":"47,300","t":1.97,"v":-1.57},{"s":"47,300","t":1.99,"v":-1.45},{"s":"47,300","t":2.01,"v":-1.36},{"s":"47,300","t":2.03,"v":-1.33},{"s":"47,300","t":2.05,"v":-1.32},{"s":"47,300","t":2.07,"v":-1.33},{"s":"47,300","t":2.09,"v":-1.36},{"s":"47,300","t":2.11,"v":-1.38},{"s":"47,300","t":2.13,"v":-1.42},{"s":"47,300","t":2.15,"v":-1.46},{"s":"47,300","t":2.17,"v":-1.52},{"s":"47,300","t":2.19,"v":-1.57},{"s":"47,300","t":2.21,"v":-1.62},{"s":"47,300","t":2.23,"v":-1.68},{"s":"47,300","t":2.25,"v":-1.75},{"s":"47,300","t":2.27,"v":-1.82},{"s":"47,300","t":2.29,"v":-1.88},{"s":"47,300","t":2.31,"v":-1.96},{"s":"47,300","t":2.33,"v":-2.03},{"s":"47,300","t":2.35,"v":-2.12},{"s":"47,300","t":2.37,"v":-2.2},{"s":"47,300","t":2.39,"v":-2.3},{"s":"47,300","t":2.41,"v":-2.38},{"s":"47,300","t":2.43,"v":-2.5},{"s":"47,300","t":2.45,"v":-2.56},{"s":"47,300","t":2.47,"v":-2.66},{"s":"47,300","t":2.49,"v":-2.74},{"s":"47,300","t":2.51,"v":-2.82},{"s":"47,300","t":2.53,"v":-2.92},{"s":"47,300","t":2.55,"v":-3.0},{"s":"47,300","t":2.57,"v":-3.1},{"s":"47,300","t":2.59,"v":-3.2},{"s":"47,300","t":2.61,"v":-3.25},{"s":"47,300","t":2.63,"v":-3.32},{"s":"47,300","t":2.65,"v":-3.38},{"s":"47,300","t":2.67,"v":-3.48},{"s":"47,300","t":2.685,"v":-3.5},{"s":"47,300","t":2.7,"v":-3.42},{"s":"47,300","t":2.715,"v":-3.3},{"s":"47,300","t":2.73,"v":-3.2},{"s":"47,300","t":2.745,"v":-3.05},{"s":"47,300","t":2.76,"v":-2.95},{"s":"47,300","t":2.775,"v":-2.88},{"s":"47,300","t":2.79,"v":-2.82},{"s":"47,300","t":2.805,"v":-2.92},{"s":"47,300","t":2.82,"v":-3.05},{"s":"47,300","t":2.835,"v":-3.18},{"s":"47,300","t":2.85,"v":-3.3},{"s":"47,300","t":2.865,"v":-3.38},{"s":"47,300","t":2.88,"v":-3.28},{"s":"47,300","t":2.895,"v":-3.12},{"s":"47,300","t":2.91,"v":-3.05},{"s":"47,300","t":2.925,"v":-2.95},{"s":"47,300","t":2.94,"v":-2.98},{"s":"47,300","t":2.955,"v":-2.85},{"s":"47,300","t":2.97,"v":-2.9},{"s":"47,300","t":2.985,"v":-2.8},{"s":"47,300","t":3.0,"v":-2.88},{"s":"47,300","t":3.015,"v":-2.8},{"s":"47,300","t":3.03,"v":-2.75},{"s":"47,300","t":3.045,"v":-2.82},{"s":"47,300","t":3.06,"v":-2.72},{"s":"47,300","t":3.075,"v":-2.78},{"s":"47,300","t":3.09,"v":-2.7},{"s":"47,300","t":3.105,"v":-2.72},{"s":"47,300","t":3.12,"v":-2.65},{"s":"47,300","t":3.135,"v":-2.65},{"s":"47,300","t":3.15,"v":-2.62},{"s":"47,300","t":3.16,"v":-2.55},{"s":"47,300","t":3.17,"v":-2.35},{"s":"47,300","t":3.18,"v":-2.15},{"s":"47,300","t":3.19,"v":-1.97},{"s":"47,300","t":3.2,"v":-1.78},{"s":"47,300","t":3.21,"v":-1.58},{"s":"47,300","t":3.22,"v":-1.38},{"s":"47,300","t":3.23,"v":-1.2},{"s":"47,300","t":3.24,"v":-1.0},{"s":"47,300","t":3.25,"v":-0.78},{"s":"47,300","t":3.26,"v":-0.55},{"s":"47,300","t":3.27,"v":-0.32},{"s":"47,300","t":3.28,"v":-0.05},{"s":"47,300","t":3.29,"v":0.18},{"s":"47,300","t":3.298,"v":0.25},{"s":"47,300","t":3.305,"v":0.18},{"s":"47,300","t":3.315,"v":0.2},{"s":"47,300","t":3.325,"v":0.1},{"s":"47,300","t":3.335,"v":-0.08},{"s":"47,300","t":3.345,"v":-0.3},{"s":"47,300","t":3.355,"v":-0.5},{"s":"47,300","t":3.365,"v":-0.75},{"s":"47,300","t":3.375,"v":-0.95},{"s":"47,300","t":3.385,"v":-1.05},{"s":"47,300","t":3.395,"v":-1.1},{"s":"47,300","t":3.405,"v":-1.2},{"s":"47,300","t":3.415,"v":-1.08},{"s":"47,300","t":3.425,"v":-1.25},{"s":"47,300","t":3.435,"v":-1.1},{"s":"47,300","t":3.445,"v":-1.15},{"s":"47,300","t":3.455,"v":-1.3},{"s":"47,300","t":3.465,"v":-1.1},{"s":"47,300","t":3.475,"v":-1.2},{"s":"47,300","t":3.485,"v":-1.05},{"s":"47,300","t":3.495,"v":-1.12},{"s":"47,300","t":3.5,"v":-1.1},
{"s":"12,432","t":1.5,"v":0},{"s":"12,432","t":1.65,"v":0},{"s":"12,432","t":1.68,"v":-0.01},{"s":"12,432","t":1.7,"v":-0.04},{"s":"12,432","t":1.72,"v":-0.11},{"s":"12,432","t":1.74,"v":-0.27},{"s":"12,432","t":1.76,"v":-0.54},{"s":"12,432","t":1.78,"v":-0.97},{"s":"12,432","t":1.8,"v":-1.5},{"s":"12,432","t":1.82,"v":-2.02},{"s":"12,432","t":1.84,"v":-2.48},{"s":"12,432","t":1.86,"v":-2.76},{"s":"12,432","t":1.875,"v":-2.85},{"s":"12,432","t":1.89,"v":-2.78},{"s":"12,432","t":1.905,"v":-2.58},{"s":"12,432","t":1.92,"v":-2.28},{"s":"12,432","t":1.935,"v":-1.98},{"s":"12,432","t":1.95,"v":-1.78},{"s":"12,432","t":1.97,"v":-1.6},{"s":"12,432","t":1.99,"v":-1.46},{"s":"12,432","t":2.01,"v":-1.36},{"s":"12,432","t":2.03,"v":-1.34},{"s":"12,432","t":2.05,"v":-1.33},{"s":"12,432","t":2.07,"v":-1.34},{"s":"12,432","t":2.09,"v":-1.37},{"s":"12,432","t":2.11,"v":-1.4},{"s":"12,432","t":2.13,"v":-1.44},{"s":"12,432","t":2.15,"v":-1.48},{"s":"12,432","t":2.17,"v":-1.55},{"s":"12,432","t":2.19,"v":-1.6},{"s":"12,432","t":2.21,"v":-1.66},{"s":"12,432","t":2.23,"v":-1.72},{"s":"12,432","t":2.25,"v":-1.8},{"s":"12,432","t":2.27,"v":-1.86},{"s":"12,432","t":2.29,"v":-1.94},{"s":"12,432","t":2.31,"v":-2.02},{"s":"12,432","t":2.33,"v":-2.1},{"s":"12,432","t":2.35,"v":-2.2},{"s":"12,432","t":2.37,"v":-2.28},{"s":"12,432","t":2.39,"v":-2.4},{"s":"12,432","t":2.41,"v":-2.48},{"s":"12,432","t":2.43,"v":-2.6},{"s":"12,432","t":2.45,"v":-2.66},{"s":"12,432","t":2.47,"v":-2.78},{"s":"12,432","t":2.49,"v":-2.86},{"s":"12,432","t":2.51,"v":-2.95},{"s":"12,432","t":2.53,"v":-3.05},{"s":"12,432","t":2.55,"v":-3.12},{"s":"12,432","t":2.565,"v":-3.2},{"s":"12,432","t":2.58,"v":-3.3},{"s":"12,432","t":2.595,"v":-3.38},{"s":"12,432","t":2.61,"v":-3.35},{"s":"12,432","t":2.625,"v":-3.45},{"s":"12,432","t":2.64,"v":-3.5},{"s":"12,432","t":2.655,"v":-3.42},{"s":"12,432","t":2.67,"v":-3.55},{"s":"12,432","t":2.68,"v":-3.6},{"s":"12,432","t":2.69,"v":-3.5},{"s":"12,432","t":2.7,"v":-3.55},{"s":"12,432","t":2.715,"v":-3.38},{"s":"12,432","t":2.73,"v":-3.3},{"s":"12,432","t":2.745,"v":-3.15},{"s":"12,432","t":2.76,"v":-3.05},{"s":"12,432","t":2.775,"v":-2.98},{"s":"12,432","t":2.79,"v":-2.88},{"s":"12,432","t":2.805,"v":-3.1},{"s":"12,432","t":2.82,"v":-3.2},{"s":"12,432","t":2.835,"v":-3.3},{"s":"12,432","t":2.85,"v":-3.4},{"s":"12,432","t":2.865,"v":-3.47},{"s":"12,432","t":2.88,"v":-3.35},{"s":"12,432","t":2.895,"v":-3.2},{"s":"12,432","t":2.91,"v":-3.25},{"s":"12,432","t":2.925,"v":-3.05},{"s":"12,432","t":2.94,"v":-3.12},{"s":"12,432","t":2.955,"v":-2.95},{"s":"12,432","t":2.97,"v":-3.05},{"s":"12,432","t":2.985,"v":-2.9},{"s":"12,432","t":3.0,"v":-3.02},{"s":"12,432","t":3.015,"v":-2.95},{"s":"12,432","t":3.03,"v":-2.82},{"s":"12,432","t":3.045,"v":-2.95},{"s":"12,432","t":3.06,"v":-2.8},{"s":"12,432","t":3.075,"v":-2.9},{"s":"12,432","t":3.09,"v":-2.75},{"s":"12,432","t":3.105,"v":-2.82},{"s":"12,432","t":3.12,"v":-2.7},{"s":"12,432","t":3.135,"v":-2.72},{"s":"12,432","t":3.15,"v":-2.65},{"s":"12,432","t":3.16,"v":-2.6},{"s":"12,432","t":3.17,"v":-2.4},{"s":"12,432","t":3.18,"v":-2.2},{"s":"12,432","t":3.19,"v":-2.02},{"s":"12,432","t":3.2,"v":-1.82},{"s":"12,432","t":3.21,"v":-1.62},{"s":"12,432","t":3.22,"v":-1.42},{"s":"12,432","t":3.23,"v":-1.25},{"s":"12,432","t":3.24,"v":-1.05},{"s":"12,432","t":3.25,"v":-0.82},{"s":"12,432","t":3.26,"v":-0.6},{"s":"12,432","t":3.27,"v":-0.38},{"s":"12,432","t":3.28,"v":-0.1},{"s":"12,432","t":3.29,"v":0.15},{"s":"12,432","t":3.298,"v":0.24},{"s":"12,432","t":3.305,"v":0.15},{"s":"12,432","t":3.315,"v":0.22},{"s":"12,432","t":3.322,"v":0.2},{"s":"12,432","t":3.33,"v":0.02},{"s":"12,432","t":3.34,"v":-0.15},{"s":"12,432","t":3.35,"v":-0.32},{"s":"12,432","t":3.36,"v":-0.5},{"s":"12,432","t":3.37,"v":-0.72},{"s":"12,432","t":3.38,"v":-0.9},{"s":"12,432","t":3.39,"v":-1.0},{"s":"12,432","t":3.4,"v":-1.05},{"s":"12,432","t":3.41,"v":-1.25},{"s":"12,432","t":3.42,"v":-1.12},{"s":"12,432","t":3.43,"v":-1.3},{"s":"12,432","t":3.44,"v":-1.1},{"s":"12,432","t":3.45,"v":-1.2},{"s":"12,432","t":3.46,"v":-1.35},{"s":"12,432","t":3.47,"v":-1.18},{"s":"12,432","t":3.48,"v":-1.3},{"s":"12,432","t":3.49,"v":-1.2},{"s":"12,432","t":3.5,"v":-1.35},
{"s":"3,111,000","t":1.5,"v":0},{"s":"3,111,000","t":1.65,"v":0},{"s":"3,111,000","t":1.68,"v":-0.01},{"s":"3,111,000","t":1.7,"v":-0.04},{"s":"3,111,000","t":1.72,"v":-0.12},{"s":"3,111,000","t":1.74,"v":-0.28},{"s":"3,111,000","t":1.76,"v":-0.55},{"s":"3,111,000","t":1.78,"v":-0.98},{"s":"3,111,000","t":1.8,"v":-1.5},{"s":"3,111,000","t":1.82,"v":-2.0},{"s":"3,111,000","t":1.84,"v":-2.45},{"s":"3,111,000","t":1.86,"v":-2.72},{"s":"3,111,000","t":1.875,"v":-2.81},{"s":"3,111,000","t":1.89,"v":-2.74},{"s":"3,111,000","t":1.905,"v":-2.55},{"s":"3,111,000","t":1.92,"v":-2.25},{"s":"3,111,000","t":1.935,"v":-1.95},{"s":"3,111,000","t":1.95,"v":-1.75},{"s":"3,111,000","t":1.97,"v":-1.58},{"s":"3,111,000","t":1.99,"v":-1.45},{"s":"3,111,000","t":2.01,"v":-1.32},{"s":"3,111,000","t":2.03,"v":-1.36},{"s":"3,111,000","t":2.05,"v":-1.33},{"s":"3,111,000","t":2.07,"v":-1.3},{"s":"3,111,000","t":2.09,"v":-1.33},{"s":"3,111,000","t":2.11,"v":-1.35},{"s":"3,111,000","t":2.13,"v":-1.38},{"s":"3,111,000","t":2.15,"v":-1.4},{"s":"3,111,000","t":2.17,"v":-1.48},{"s":"3,111,000","t":2.19,"v":-1.52},{"s":"3,111,000","t":2.21,"v":-1.56},{"s":"3,111,000","t":2.23,"v":-1.62},{"s":"3,111,000","t":2.25,"v":-1.7},{"s":"3,111,000","t":2.27,"v":-1.76},{"s":"3,111,000","t":2.29,"v":-1.82},{"s":"3,111,000","t":2.31,"v":-1.92},{"s":"3,111,000","t":2.33,"v":-1.97},{"s":"3,111,000","t":2.35,"v":-2.08},{"s":"3,111,000","t":2.37,"v":-2.15},{"s":"3,111,000","t":2.39,"v":-2.28},{"s":"3,111,000","t":2.41,"v":-2.33},{"s":"3,111,000","t":2.43,"v":-2.45},{"s":"3,111,000","t":2.45,"v":-2.5},{"s":"3,111,000","t":2.47,"v":-2.6},{"s":"3,111,000","t":2.49,"v":-2.68},{"s":"3,111,000","t":2.51,"v":-2.75},{"s":"3,111,000","t":2.53,"v":-2.85},{"s":"3,111,000","t":2.55,"v":-2.92},{"s":"3,111,000","t":2.565,"v":-2.98},{"s":"3,111,000","t":2.58,"v":-3.05},{"s":"3,111,000","t":2.595,"v":-3.15},{"s":"3,111,000","t":2.61,"v":-3.2},{"s":"3,111,000","t":2.62,"v":-3.12},{"s":"3,111,000","t":2.63,"v":-3.22},{"s":"3,111,000","t":2.645,"v":-3.3},{"s":"3,111,000","t":2.655,"v":-3.2},{"s":"3,111,000","t":2.665,"v":-3.32},{"s":"3,111,000","t":2.68,"v":-3.43},{"s":"3,111,000","t":2.69,"v":-3.3},{"s":"3,111,000","t":2.7,"v":-3.38},{"s":"3,111,000","t":2.71,"v":-3.25},{"s":"3,111,000","t":2.725,"v":-3.15},{"s":"3,111,000","t":2.735,"v":-3.2},{"s":"3,111,000","t":2.75,"v":-2.98},{"s":"3,111,000","t":2.765,"v":-2.9},{"s":"3,111,000","t":2.775,"v":-3.0},{"s":"3,111,000","t":2.785,"v":-2.72},{"s":"3,111,000","t":2.8,"v":-2.95},{"s":"3,111,000","t":2.81,"v":-3.05},{"s":"3,111,000","t":2.82,"v":-2.9},{"s":"3,111,000","t":2.835,"v":-3.15},{"s":"3,111,000","t":2.85,"v":-3.2},{"s":"3,111,000","t":2.86,"v":-3.32},{"s":"3,111,000","t":2.87,"v":-3.1},{"s":"3,111,000","t":2.88,"v":-3.25},{"s":"3,111,000","t":2.895,"v":-3.0},{"s":"3,111,000","t":2.91,"v":-3.1},{"s":"3,111,000","t":2.92,"v":-2.88},{"s":"3,111,000","t":2.935,"v":-3.0},{"s":"3,111,000","t":2.95,"v":-2.8},{"s":"3,111,000","t":2.96,"v":-2.92},{"s":"3,111,000","t":2.975,"v":-2.72},{"s":"3,111,000","t":2.99,"v":-2.95},{"s":"3,111,000","t":3.005,"v":-2.85},{"s":"3,111,000","t":3.02,"v":-2.7},{"s":"3,111,000","t":3.035,"v":-2.88},{"s":"3,111,000","t":3.05,"v":-2.72},{"s":"3,111,000","t":3.065,"v":-2.85},{"s":"3,111,000","t":3.08,"v":-2.8},{"s":"3,111,000","t":3.095,"v":-2.65},{"s":"3,111,000","t":3.11,"v":-2.75},{"s":"3,111,000","t":3.125,"v":-2.62},{"s":"3,111,000","t":3.14,"v":-2.6},{"s":"3,111,000","t":3.155,"v":-2.58},{"s":"3,111,000","t":3.165,"v":-2.35},{"s":"3,111,000","t":3.175,"v":-2.2},{"s":"3,111,000","t":3.185,"v":-2.0},{"s":"3,111,000","t":3.195,"v":-1.85},{"s":"3,111,000","t":3.205,"v":-1.65},{"s":"3,111,000","t":3.215,"v":-1.45},{"s":"3,111,000","t":3.225,"v":-1.28},{"s":"3,111,000","t":3.235,"v":-1.1},{"s":"3,111,000","t":3.245,"v":-0.85},{"s":"3,111,000","t":3.255,"v":-0.65},{"s":"3,111,000","t":3.265,"v":-0.45},{"s":"3,111,000","t":3.275,"v":-0.2},{"s":"3,111,000","t":3.285,"v":0.15},{"s":"3,111,000","t":3.292,"v":0.25},{"s":"3,111,000","t":3.3,"v":0.1},{"s":"3,111,000","t":3.31,"v":0.2},{"s":"3,111,000","t":3.318,"v":0.22},{"s":"3,111,000","t":3.325,"v":0.05},{"s":"3,111,000","t":3.335,"v":-0.1},{"s":"3,111,000","t":3.345,"v":-0.35},{"s":"3,111,000","t":3.355,"v":-0.55},{"s":"3,111,000","t":3.365,"v":-0.82},{"s":"3,111,000","t":3.375,"v":-0.98},{"s":"3,111,000","t":3.385,"v":-1.1},{"s":"3,111,000","t":3.395,"v":-1.0},{"s":"3,111,000","t":3.405,"v":-1.25},{"s":"3,111,000","t":3.415,"v":-1.1},{"s":"3,111,000","t":3.425,"v":-1.38},{"s":"3,111,000","t":3.435,"v":-1.15},{"s":"3,111,000","t":3.445,"v":-1.05},{"s":"3,111,000","t":3.455,"v":-1.3},{"s":"3,111,000","t":3.465,"v":-1.15},{"s":"3,111,000","t":3.475,"v":-1.4},{"s":"3,111,000","t":3.485,"v":-1.12},{"s":"3,111,000","t":3.495,"v":-1.25},{"s":"3,111,000","t":3.5,"v":-1.32}
]
},
"vconcat": [
{
 "width": 530, "height": 450,
 "resolve": {"axis": {"x": "independent", "y": "independent"}},
 "layer": [
  {
   "data": {"name": "a"},
   "mark": {"type": "line", "strokeWidth": 1.3, "interpolate": "monotone"},
   "encoding": {
    "x": {"field": "t", "type": "quantitative", "scale": {"domain": [0, 3], "nice": false, "zero": false},
      "axis": {"title": "Time (ms)", "values": [0, 0.5, 1, 1.5, 2, 2.5, 3], "format": "~g", "offset": -225, "labelPadding": 9, "titleX": 285, "titleY": 251, "titleBaseline": "alphabetic", "titleAlign": "center"}},
    "y": {"field": "v", "type": "quantitative", "scale": {"domain": [-3, 3], "nice": false, "zero": false},
      "axis": {"title": "Strain Measure (mm/mm), x 10⁻³", "values": [-3, -2, -1, 0, 1, 2, 3], "format": ".2f", "labelPadding": 9, "titleFontSize": 15.5, "titleAngle": 270, "titleX": -69, "titleY": 201, "titleAlign": "center", "titleBaseline": "middle"}},
    "color": {"field": "s", "type": "nominal", "scale": {"domain": ["3,111,000", "47,300", "12,432", "4,703"], "range": ["#3c3c3c", "#4cc9ee", "#5a5a5a", "#27c1ea"]},
      "legend": {"orient": "none", "legendX": 84, "legendY": 13.5, "symbolSize": 529, "rowPadding": 18.3, "labelExpr": "datum.label + ' Elements'"}},
    "strokeDash": {"field": "s", "type": "nominal", "scale": {"domain": ["3,111,000", "47,300", "12,432", "4,703"], "range": [[1, 0], [2, 1.5], [7, 3, 2, 3], [1, 0]]},
      "legend": {"orient": "none", "legendX": 84, "legendY": 13.5, "symbolSize": 529, "rowPadding": 18.3, "labelExpr": "datum.label + ' Elements'"}}
   }
  },
  {
   "data": {"values": [{}]},
   "mark": {"type": "rule", "color": "#111111", "strokeWidth": 2},
   "encoding": {"x": {"datum": -0.505, "axis": null}, "x2": {"datum": 3.045}, "y": {"datum": 3.223, "axis": null}}
  },
  {
   "data": {"values": [{}]},
   "mark": {"type": "rule", "color": "#111111", "strokeWidth": 2},
   "encoding": {"x": {"datum": -0.505, "axis": null}, "x2": {"datum": 3.045}, "y": {"datum": -3.467, "axis": null}}
  },
  {
   "data": {"values": [{}]},
   "mark": {"type": "rule", "color": "#111111", "strokeWidth": 2},
   "encoding": {"x": {"datum": -0.505, "axis": null}, "y": {"datum": 3.223, "axis": null}, "y2": {"datum": -3.467}}
  },
  {
   "data": {"values": [{}]},
   "mark": {"type": "text", "align": "right", "baseline": "middle", "fontSize": 20, "fontWeight": "bold", "font": "Liberation Sans", "color": "#000000"},
   "encoding": {"x": {"datum": 2.96, "axis": null}, "y": {"datum": 2.72, "axis": null}, "text": {"value": "(a)"}}
  }
 ]
},
{
 "width": 530, "height": 446,
 "resolve": {"axis": {"x": "independent", "y": "independent"}},
 "layer": [
  {
   "data": {"name": "b"},
   "mark": {"type": "line", "strokeWidth": 1.3, "interpolate": "monotone"},
   "encoding": {
    "x": {"field": "t", "type": "quantitative", "scale": {"domain": [1.5, 3.5], "nice": false, "zero": false},
      "axis": {"title": "Time (ms)", "values": [1.5, 2, 2.5, 3, 3.5], "format": ".1f", "offset": -357, "labelPadding": 9, "titleX": 273, "titleY": 376, "titleBaseline": "alphabetic", "titleAlign": "center",
        "labelAlign": {"condition": {"test": "datum.value == 3.5", "value": "right"}, "value": "center"},
        "labelOffset": {"condition": {"test": "datum.value == 3.5", "value": 7}, "value": 0}}},
    "y": {"field": "v", "type": "quantitative", "scale": {"domain": [-4, 1], "nice": false, "zero": false},
      "axis": {"title": "Strain Measure (mm/mm), x 10⁻⁵", "values": [-4, -3.5, -3, -2.5, -2, -1.5, -1, -0.5, 0, 0.5, 1], "format": ".1f", "labelPadding": 9, "titleFontSize": 17, "titleAngle": 270, "titleX": -63.5, "titleY": 192, "titleAlign": "center", "titleBaseline": "middle"}},
    "color": {"field": "s", "type": "nominal", "scale": {"domain": ["3,111,000", "47,300", "12,432", "4,703"], "range": ["#3c3c3c", "#4cc9ee", "#5a5a5a", "#27c1ea"]},
      "legend": {"orient": "none", "legendX": 265, "legendY": 127.5, "symbolSize": 529, "rowPadding": 14.7, "labelExpr": "datum.label + ' Elements'"}},
    "strokeDash": {"field": "s", "type": "nominal", "scale": {"domain": ["3,111,000", "47,300", "12,432", "4,703"], "range": [[1, 0], [2, 1.5], [7, 3, 2, 3], [1, 0]]},
      "legend": {"orient": "none", "legendX": 265, "legendY": 127.5, "symbolSize": 529, "rowPadding": 14.7, "labelExpr": "datum.label + ' Elements'"}}
   }
  },
  {
   "data": {"values": [{}]},
   "mark": {"type": "rule", "color": "#111111", "strokeWidth": 2},
   "encoding": {"x": {"datum": 1.1634, "axis": null}, "y": {"datum": 1.28, "axis": null}, "y2": {"datum": -4.25}}
  },
  {
   "data": {"values": [{}]},
   "mark": {"type": "text", "align": "right", "baseline": "middle", "fontSize": 20, "fontWeight": "bold", "font": "Liberation Sans", "color": "#000000"},
   "encoding": {"x": {"datum": 3.477, "axis": null}, "y": {"datum": 0.74, "axis": null}, "text": {"value": "(b)"}}
  }
 ]
}
],
"resolve": {"scale": {"color": "independent", "strokeDash": "independent"}}
}
